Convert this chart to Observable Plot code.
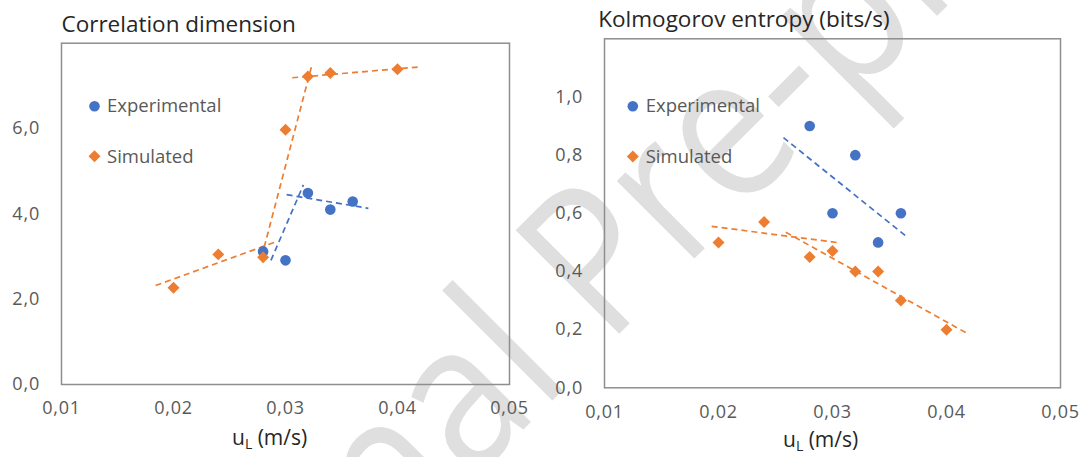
<!DOCTYPE html>
<html>
<head>
<meta charset="utf-8">
<script src="https://cdn.jsdelivr.net/npm/d3@7"></script>
<script src="https://cdn.jsdelivr.net/npm/@observablehq/plot@0.6"></script>
<style>
  html, body { margin: 0; padding: 0; background: #fff; }
  #fig { position: relative; width: 1084px; height: 457px; overflow: hidden; background: #fff; font-family: "Open Sans", sans-serif; }
  #bg { position: absolute; left: 0; top: 0; }
  .panel { position: absolute; top: 0; }
  .panel svg { background: transparent; overflow: visible; }
  .panel g[aria-label$="tick label"] text { letter-spacing: 0.8px; }
</style>
</head>
<body>
<div id="fig">
  <svg id="bg" width="1084" height="457"></svg>
  <div class="panel" id="left" style="left:0px"></div>
  <div class="panel" id="right" style="left:540px"></div>
</div>
<script>
// Correlation dimension vs superficial liquid velocity u_L (m/s)
const cdSimU = [0.020, 0.024, 0.028, 0.030, 0.032, 0.034, 0.040];
const cdSim  = [2.27, 3.05, 2.98, 5.97, 7.22, 7.30, 7.39];
const cdExpU = [0.028, 0.030, 0.032, 0.034, 0.036];
const cdExp  = [3.12, 2.91, 4.49, 4.10, 4.29];
// dashed trend segments: [u1, value1, u2, value2]
const cdSimTrend = [[0.0184, 2.32, 0.0292, 3.35], [0.0281, 3.22, 0.0324, 7.53], [0.0306, 7.19, 0.0418, 7.44]];
const cdExpTrend = [[0.0287, 2.91, 0.0316, 4.68], [0.0301, 4.45, 0.0374, 4.13]];

// Kolmogorov entropy (bits/s) vs u_L
const keSimU = [0.020, 0.024, 0.028, 0.030, 0.032, 0.034, 0.036, 0.040];
const keSim  = [0.50, 0.57, 0.45, 0.47, 0.40, 0.40, 0.30, 0.20];
const keExpU = [0.028, 0.030, 0.032, 0.034, 0.036];
const keExp  = [0.90, 0.60, 0.80, 0.50, 0.60];
const keSimTrend = [[0.0194, 0.555, 0.0305, 0.499], [0.0259, 0.535, 0.0420, 0.183]];
const keExpTrend = [[0.0257, 0.86, 0.0365, 0.52]];

// axis ticks
const uTicks  = [0.01, 0.02, 0.03, 0.04, 0.05];
const cdTicks = [0, 2, 4, 6];
const keTicks = [0, 0.2, 0.4, 0.6, 0.8, 1.0];

const seriesNames = ["Experimental", "Simulated"];
const titles = ["Correlation dimension", "Kolmogorov entropy (bits/s)"];

const BLUE = "#4472C4", ORANGE = "#ED7D31", GREY = "#595959";
const comma = (f) => (d) => d3.format(f)(d).replace(".", ",");

const pts = (us, vs) => us.map((u, i) => ({u, v: vs[i]}));
const segs = (rows) => rows.map(([u1, v1, u2, v2]) => ({u1, v1, u2, v2}));

function panel({width, margins, yDomain, yTicks, yFmt, sim, exp, simTrend, expTrend, legend}) {
  const [mt, mr, mb, ml] = margins;
  return Plot.plot({
    width, height: 457,
    marginTop: mt, marginRight: mr, marginBottom: mb, marginLeft: ml,
    style: {background: "transparent", fontFamily: "Open Sans, sans-serif", fontSize: "18px", color: GREY, overflow: "visible"},
    x: {domain: [0.01, 0.05]},
    y: {domain: yDomain},
    marks: [
      Plot.axisX({ticks: uTicks, tickFormat: comma(".2f"), tickSize: 0, tickPadding: 17, label: null}),
      Plot.axisY({ticks: yTicks, tickFormat: comma(yFmt), tickSize: 0, tickPadding: 21.5, label: null}),
      Plot.frame({stroke: "#8e8e8e", strokeWidth: 1.5}),
      Plot.link(segs(simTrend), {x1: "u1", y1: "v1", x2: "u2", y2: "v2", stroke: ORANGE, strokeWidth: 1.7, strokeDasharray: "6,4"}),
      Plot.link(segs(expTrend), {x1: "u1", y1: "v1", x2: "u2", y2: "v2", stroke: BLUE, strokeWidth: 1.7, strokeDasharray: "6,4"}),
      Plot.dot(pts(exp[0], exp[1]), {x: "u", y: "v", r: 5.3, fill: BLUE, symbol: "circle"}),
      Plot.dot(pts(sim[0], sim[1]), {x: "u", y: "v", r: 5.4, fill: ORANGE, symbol: "diamond2"}),
      // in-frame legend
      Plot.dot([seriesNames[0]], {frameAnchor: "top-left", dx: legend.mx, dy: legend.y1, r: 5.3, fill: BLUE, symbol: "circle"}),
      Plot.dot([seriesNames[1]], {frameAnchor: "top-left", dx: legend.mx, dy: legend.y2, r: 5.4, fill: ORANGE, symbol: "diamond2"}),
      Plot.text([seriesNames[0]], {text: d => d, frameAnchor: "top-left", dx: legend.tx, dy: legend.y1, textAnchor: "start", lineAnchor: "middle", fontSize: 18.5, fill: GREY}),
      Plot.text([seriesNames[1]], {text: d => d, frameAnchor: "top-left", dx: legend.tx, dy: legend.y2 + 0.5, textAnchor: "start", lineAnchor: "middle", fontSize: 18.5, fill: GREY})
    ]
  });
}

document.getElementById("left").append(panel({
  width: 540, margins: [42.7, 31, 73, 61],
  yDomain: [0, 8], yTicks: cdTicks, yFmt: ".1f",
  sim: [cdSimU, cdSim], exp: [cdExpU, cdExp],
  simTrend: cdSimTrend, expTrend: cdExpTrend,
  legend: {mx: 33, tx: 45.5, y1: 63, y2: 113}
}));

document.getElementById("right").append(panel({
  width: 544, margins: [38.3, 24, 69.7, 64],
  yDomain: [0, 1.2], yTicks: keTicks, yFmt: ".1f",
  sim: [keSimU, keSim], exp: [keExpU, keExp],
  simTrend: keSimTrend, expTrend: keExpTrend,
  legend: {mx: 28.3, tx: 41.2, y1: 67.4, y2: 117.8}
}));

// background layer: watermark, panel titles, axis titles
const bg = d3.select("#bg");
bg.append("text")
  .attr("transform", "translate(151,802) rotate(-45) scale(0.88,1)")
  .attr("font-family", "Open Sans, sans-serif")
  .attr("font-size", 205)
  .attr("fill", "#dfdfdf")
  .text("Journal Pre-proof");

[[61.5, 32], [598.3, 26.7]].forEach(([x, y], i) => {
  bg.append("text").attr("x", x).attr("y", y)
    .attr("font-family", "Open Sans, sans-serif").attr("font-size", 22.5)
    .attr("fill", "#262626").text(titles[i]);
});

[[232, 445], [783, 446.5]].forEach(([x, y]) => {
  const t = bg.append("text").attr("x", x).attr("y", y)
    .attr("font-family", "Open Sans, sans-serif").attr("font-size", 21).attr("fill", "#262626");
  t.append("tspan").text("u");
  t.append("tspan").attr("dy", 4).attr("font-size", 14).text("L");
  t.append("tspan").attr("dy", -4).text(" (m/s)");
});
</script>
</body>
</html>
